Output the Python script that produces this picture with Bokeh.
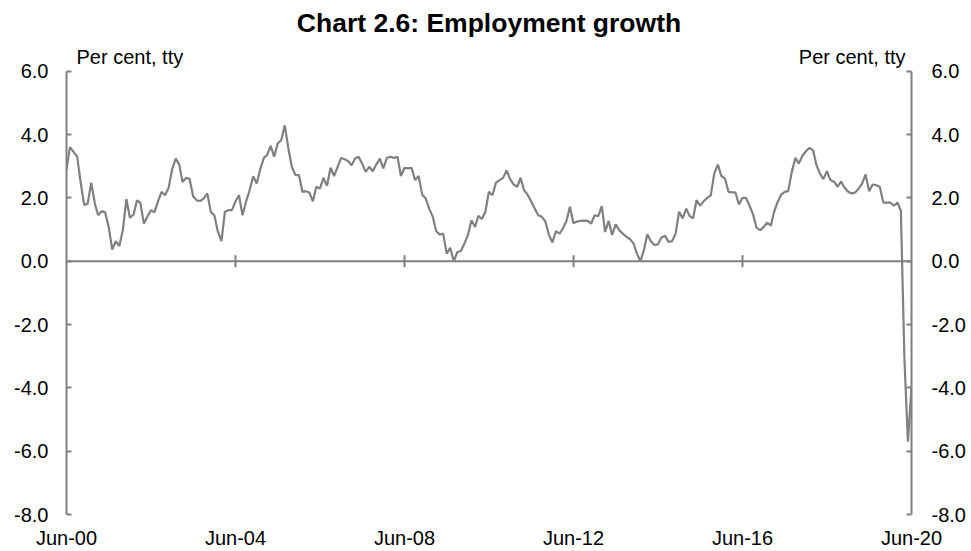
import math
import pandas as pd
from bokeh.plotting import figure
from bokeh.models import (Range1d, FixedTicker, LinearAxis, DatetimeTickFormatter,
                          NumeralTickFormatter, Label, Span)
from bokeh.embed import file_html
from bokeh.resources import INLINE

# ---- data (per cent, through the year), monthly from Jun-00 ----
first_month = "2000-06-01"
growth = [
    # Jun-00 .. Dec-00
    2.90, 3.60, 3.45, 3.30, 2.50, 1.77, 1.82,
    # 2001
    2.48, 1.82, 1.45, 1.58, 1.54, 1.08, 0.37, 0.63, 0.48, 0.98, 1.96, 1.37,
    # 2002
    1.47, 1.92, 1.85, 1.19, 1.40, 1.61, 1.54, 1.89, 2.19, 2.08, 2.32, 2.90,
    # 2003
    3.24, 3.05, 2.50, 2.63, 2.60, 2.05, 1.92, 1.90, 1.98, 2.14, 1.55, 1.45,
    # 2004
    0.93, 0.63, 1.56, 1.61, 1.61, 1.89, 2.08, 1.45, 1.89, 2.24, 2.68, 2.45,
    # 2005
    2.90, 3.26, 3.35, 3.64, 3.30, 3.72, 3.82, 4.29, 3.56, 2.98, 2.72, 2.72,
    # 2006
    2.19, 2.21, 2.17, 1.89, 2.35, 2.29, 2.63, 2.38, 2.95, 2.69, 2.98, 3.26,
    # 2007
    3.22, 3.16, 3.03, 3.24, 3.30, 3.08, 2.82, 2.98, 2.84, 3.05, 3.24, 2.93,
    # 2008
    3.26, 3.30, 3.26, 3.30, 2.69, 2.95, 2.93, 2.95, 2.56, 2.69, 2.10, 1.98,
    # 2009
    1.65, 1.40, 0.95, 0.84, 0.87, 0.24, 0.42, 0.00, 0.29, 0.32, 0.56, 0.82,
    # 2010
    1.29, 1.08, 1.43, 1.33, 1.56, 2.19, 2.08, 2.48, 2.56, 2.63, 2.87, 2.59,
    # 2011
    2.42, 2.35, 2.63, 2.24, 2.10, 1.89, 1.66, 1.45, 1.40, 1.26, 0.84, 0.59,
    # 2012
    0.95, 0.87, 1.03, 1.27, 1.72, 1.20, 1.25, 1.27, 1.28, 1.27, 1.19, 1.45,
    # 2013
    1.42, 1.74, 0.92, 1.27, 0.83, 1.16, 0.98, 0.87, 0.77, 0.70, 0.57, 0.24,
    # 2014
    0.00, 0.37, 0.85, 0.63, 0.51, 0.53, 0.75, 0.80, 0.61, 0.63, 0.87, 1.56,
    # 2015
    1.35, 1.66, 1.43, 1.35, 1.93, 1.75, 1.89, 2.00, 2.08, 2.77, 3.05, 2.69,
    # 2016
    2.61, 2.19, 2.17, 2.17, 1.79, 2.00, 2.00, 1.75, 1.47, 1.05, 0.98, 1.08,
    # 2017
    1.22, 1.12, 1.56, 1.87, 2.10, 2.19, 2.21, 2.82, 3.26, 3.08, 3.33, 3.47,
    # 2018
    3.58, 3.50, 3.05, 2.77, 2.59, 2.84, 2.56, 2.51, 2.35, 2.51, 2.32, 2.19,
    # 2019
    2.14, 2.17, 2.29, 2.45, 2.74, 2.21, 2.42, 2.40, 2.35, 1.85, 1.85, 1.85,
    # 2020 (Jan .. Jun)
    1.75, 1.85, 1.60, -3.10, -5.70, -4.00,
]

x_tick_labels = ["Jun-00", "Jun-04", "Jun-08", "Jun-12", "Jun-16", "Jun-20"]
y_ticks = [-8.0, -6.0, -4.0, -2.0, 0.0, 2.0, 4.0, 6.0]
title_text = "Chart 2.6: Employment growth"
unit_text = "Per cent, tty"

months = pd.date_range(first_month, periods=len(growth), freq="MS")
tick_dates = pd.to_datetime(x_tick_labels, format="%b-%y")
tick_ms = [float(t.value // 10**6) for t in tick_dates]

GREY = "#808080"
FONT = "Liberation Sans"

y_lo, y_hi = min(y_ticks), max(y_ticks)
p = figure(width=968, height=551, x_axis_type="datetime",
           x_range=Range1d(months[0].to_pydatetime(), months[-1].to_pydatetime()),
           y_range=Range1d(y_lo, y_hi + 1.0),   # headroom for the unit labels
           output_backend="svg", toolbar_location=None,
           min_border_left=66, min_border_right=54, min_border_top=39, min_border_bottom=37,
           background_fill_color="white", border_fill_color="white",
           outline_line_color=None)

p.xgrid.visible = False
p.ygrid.visible = False

# title
p.title.text = title_text
p.title.align = "center"
p.title.text_font = FONT
p.title.text_font_size = "26.5px"
p.title.text_font_style = "bold"
p.title.text_color = "black"
p.title.standoff = 4

# x axis: labels only at the bottom
xa = p.xaxis[0]
xa.ticker = FixedTicker(ticks=tick_ms)
xa.formatter = DatetimeTickFormatter(years="%b-%y", months="%b-%y", days="%b-%y",
                                     hours="%b-%y", minutes="%b-%y")
xa.axis_line_color = None
xa.major_tick_line_color = None
xa.major_tick_out = 0
xa.major_tick_in = 0
xa.minor_tick_line_color = None
xa.minor_tick_out = 0
xa.major_label_text_font = FONT
xa.major_label_text_font_size = "20px"
xa.major_label_text_color = "black"
xa.major_label_standoff = 12

def style_y(ax, standoff):
    ax.ticker = FixedTicker(ticks=y_ticks)
    ax.formatter = NumeralTickFormatter(format="0.0")
    ax.bounds = (y_lo, y_hi)
    ax.axis_line_color = GREY
    ax.axis_line_width = 2
    ax.major_tick_line_color = GREY
    ax.major_tick_line_width = 2
    ax.major_tick_in = 5
    ax.major_tick_out = 0
    ax.minor_tick_line_color = None
    ax.minor_tick_out = 0
    ax.major_label_text_font = FONT
    ax.major_label_text_font_size = "20px"
    ax.major_label_text_color = "black"
    ax.major_label_standoff = standoff

style_y(p.yaxis[0], 18)
ry = LinearAxis()
style_y(ry, 20)
p.add_layout(ry, "right")

# zero line acting as the x axis
p.add_layout(Span(location=0, dimension="width", line_color=GREY, line_width=2))
p.scatter(x=list(tick_dates[1:-1]), y=[0.0] * (len(tick_dates) - 2), marker="dash",
          angle=math.pi / 2, size=12, line_color=GREY, line_width=2)

# series
p.line(x=months, y=growth, line_color=GREY, line_width=2.2)

# unit labels
p.add_layout(Label(x=tick_ms[0], y=y_hi, x_offset=10, y_offset=14, text=unit_text,
                   text_font=FONT, text_font_size="20px", text_color="black",
                   text_align="left", text_baseline="alphabetic"))
p.add_layout(Label(x=tick_ms[-1], y=y_hi, x_offset=-6, y_offset=14, text=unit_text,
                   text_font=FONT, text_font_size="20px", text_color="black",
                   text_align="right", text_baseline="alphabetic"))

open("out.html", "w").write(file_html(p, INLINE))
